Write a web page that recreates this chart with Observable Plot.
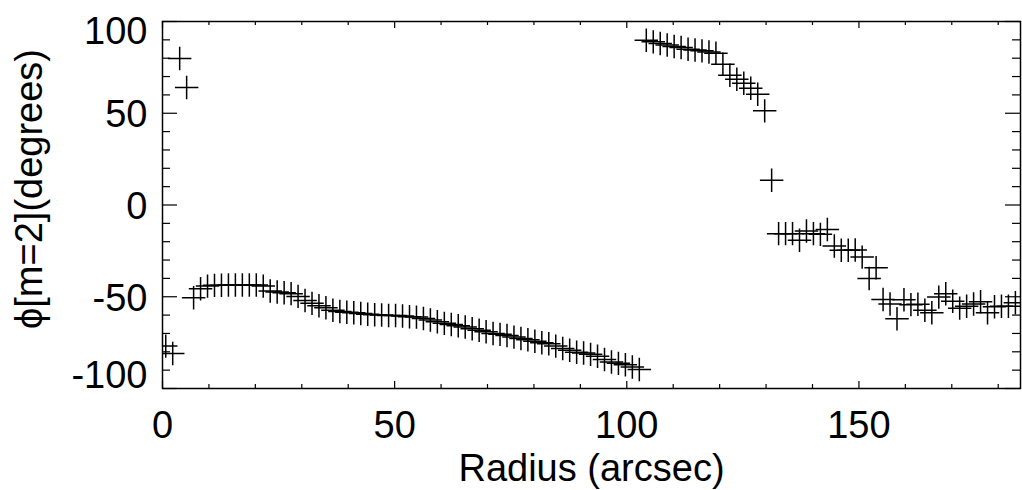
<!DOCTYPE html>
<html><head><meta charset="utf-8">
<script src="https://cdn.jsdelivr.net/npm/d3@7"></script>
<script src="https://cdn.jsdelivr.net/npm/@observablehq/plot@0.6"></script>
<style>html,body{margin:0;padding:0;background:#fff}svg{display:block}</style>
</head><body><div id="chart"></div>
<script>
// Radius (arcsec) of each measured ring
const radius = [0.7, 2.2, 3.7, 5.2, 6.7, 8.2, 9.7, 11.2, 12.7, 14.2, 15.7, 17.2, 18.7, 20.2, 21.7, 23.2, 24.7, 26.2, 27.7, 29.2,
  30.7, 32.2, 33.7, 35.2, 36.7, 38.2, 39.7, 41.2, 42.7, 44.2, 45.7, 47.2, 48.7, 50.2, 51.7, 53.2, 54.7, 56.2, 57.7, 59.2,
  60.7, 62.2, 63.7, 65.2, 66.7, 68.2, 69.7, 71.2, 72.7, 74.2, 75.7, 77.2, 78.7, 80.2, 81.7, 83.2, 84.7, 86.2, 87.7, 89.2,
  90.7, 92.2, 93.7, 95.2, 96.7, 98.2, 99.7, 101.2, 102.7, 104.2, 105.7, 107.2, 108.7, 110.2, 111.7, 113.2, 114.7, 116.2, 117.7, 119.2,
  120.7, 122.2, 123.7, 125.2, 126.7, 128.2, 129.7, 131.2, 132.7, 134.2, 135.7, 137.2, 138.7, 140.2, 141.7, 143.2, 144.7, 146.2, 147.7, 149.2,
  150.7, 152.2, 153.7, 155.2, 156.7, 158.2, 159.7, 161.2, 162.7, 164.2, 165.7, 167.2, 168.7, 170.2, 171.7, 173.2, 174.7, 176.2, 177.7, 179.2,
  180.7, 182.2, 183.7];
// phase angle phi[m=2] (degrees)
const phase = [-76.9, -80.9, 79.8, 64.0, -50.5, -45.6, -44.2, -43.8, -43.7, -43.6, -43.6, -43.6, -43.6, -43.6, -44.2, -46.9, -47.4, -47.8, -48.3, -49.8,
  -52.0, -53.6, -54.9, -56.0, -57.3, -58.0, -58.4, -58.7, -59.1, -59.5, -59.8, -60.0, -60.2, -60.2, -60.5, -60.9, -61.1, -61.8, -62.7, -63.6,
  -64.5, -65.1, -65.8, -66.5, -67.4, -68.2, -69.1, -70.0, -70.5, -71.1, -72.0, -72.7, -73.4, -74.2, -75.1, -75.6, -76.9, -78.2, -79.2, -80.2,
  -80.7, -81.4, -82.4, -84.2, -85.6, -86.3, -87.1, -88.3, -89.6, 89.8, 88.9, 88.0, 87.2, 86.4, 85.8, 84.9, 84.5, 84.0, 83.4, 82.7,
  76.7, 70.7, 68.5, 66.3, 63.6, 60.3, 51.3, 13.5, -15.6, -15.6, -15.6, -19.2, -14.2, -15.6, -16.0, -13.4, -22.4, -24.7, -24.7, -24.5,
  -28.4, -40.0, -34.2, -51.5, -54.0, -62.0, -51.6, -54.3, -54.1, -57.4, -58.7, -50.2, -48.4, -52.5, -56.2, -55.2, -54.0, -52.7, -58.7, -55.5,
  -55.2, -55.2, -53.3];

const xMajorTicks = [0, 50, 100, 150];
const xMinorTicks = [10, 20, 30, 40, 60, 70, 80, 90, 110, 120, 130, 140, 160, 170, 180];
const yMajorTicks = [-100, -50, 0, 50, 100];
const yMinorTicks = [-90, -80, -70, -60, -40, -30, -20, -10, 10, 20, 30, 40, 60, 70, 80, 90];
const xLabel = "Radius (arcsec)";
const yLabel = "ϕ[m=2](degrees)";

const data = radius.map((r, i) => ({r, phi: phase[i]}));

const W = 1022, H = 490, mL = 162, mR = 2, mT = 21, mB = 102;
const pw = W - mL - mR, ph = H - mT - mB;
const font = "'Liberation Sans', Arial, Helvetica, 'DejaVu Sans', sans-serif";
const fs = 38;
const tickStyle = {stroke: "#000", strokeWidth: 1.2};
const fmt = d => String(d);

const chart = Plot.plot({
  width: W, height: H,
  marginLeft: mL, marginRight: mR, marginTop: mT, marginBottom: mB,
  style: {background: "#fff", color: "#000", fontFamily: font},
  x: {domain: [0, 184.8]},
  y: {domain: [-100, 100]},
  marks: [
    // inward ticks on all four sides
    Plot.tickX(xMajorTicks, {insetTop: ph - 7, ...tickStyle}),
    Plot.tickX(xMinorTicks, {insetTop: ph - 4, ...tickStyle}),
    Plot.tickX(xMajorTicks, {insetBottom: ph - 7, ...tickStyle}),
    Plot.tickX(xMinorTicks, {insetBottom: ph - 4, ...tickStyle}),
    Plot.tickY(yMajorTicks, {insetRight: pw - 15, ...tickStyle}),
    Plot.tickY(yMinorTicks, {insetRight: pw - 8, ...tickStyle}),
    Plot.tickY(yMajorTicks, {insetLeft: pw - 15, ...tickStyle}),
    Plot.tickY(yMinorTicks, {insetLeft: pw - 8, ...tickStyle}),
    Plot.frame({stroke: "#000", strokeWidth: 1.5}),
    Plot.dot(data, {x: "r", y: "phi", symbol: "plus", r: 7.6, stroke: "#000", strokeWidth: 1.5, clip: true}),
    Plot.axisX({ticks: xMajorTicks, anchor: "bottom", tickSize: 0, tickPadding: 23, tickFormat: fmt,
      fontSize: fs, fontFamily: font, fill: "#000", label: null}),
    Plot.axisY({ticks: [-50, 0, 50], anchor: "left", tickSize: 0, tickPadding: 15, dy: 2, tickFormat: fmt,
      fontSize: fs, fontFamily: font, fill: "#000", label: null}),
    Plot.axisY({ticks: [100], anchor: "left", tickSize: 0, tickPadding: 15, dy: 10, tickFormat: fmt,
      fontSize: fs, fontFamily: font, fill: "#000", label: null}),
    Plot.axisY({ticks: [-100], anchor: "left", tickSize: 0, tickPadding: 15, dy: -13, tickFormat: fmt,
      fontSize: fs, fontFamily: font, fill: "#000", label: null}),
    Plot.text([xLabel], {frameAnchor: "bottom", text: d => d, dy: 80, lineAnchor: "middle",
      fontSize: fs, fontFamily: font, fill: "#000"}),
    Plot.text([yLabel], {frameAnchor: "left", text: d => d, rotate: -90, dx: -133, dy: -16, lineAnchor: "middle",
      textAnchor: "middle", fontSize: fs, fontFamily: font, fill: "#000"})
  ]
});
document.getElementById("chart").appendChild(chart);
</script>
</body></html>
